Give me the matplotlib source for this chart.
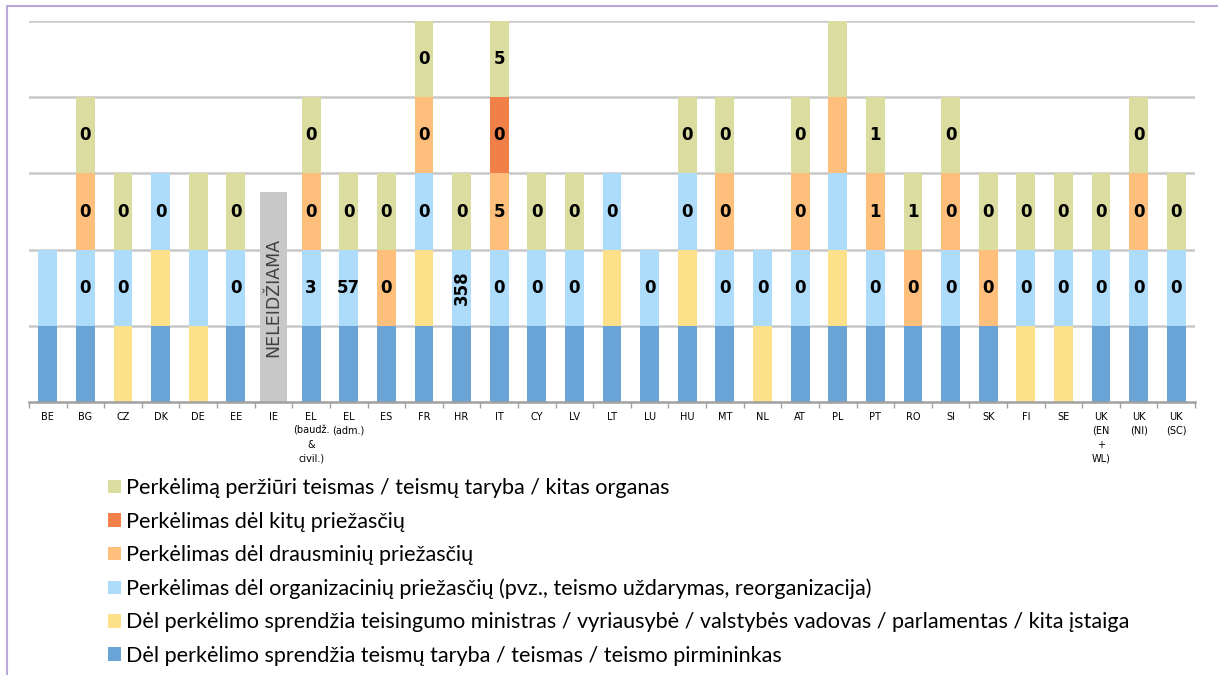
import matplotlib
matplotlib.use("Agg")
import matplotlib.pyplot as plt
from matplotlib.patches import Patch, Rectangle
import numpy as np

countries = ["BE", "BG", "CZ", "DK", "DE", "EE", "IE", "EL\n(baudž.\n&\ncivil.)", "EL\n(adm.)",
             "ES", "FR", "HR", "IT", "CY", "LV", "LT", "LU", "HU", "MT", "NL", "AT", "PL",
             "PT", "RO", "SI", "SK", "FI", "SE", "UK\n(EN\n+\nWL)", "UK\n(NI)", "UK\n(SC)"]

# 0/1 per country, stacked from bottom to top
council  = [1, 1, 0, 1, 0, 1, 0, 1, 1, 1, 1, 1, 1, 1, 1, 1, 1, 1, 1, 0, 1, 1, 1, 1, 1, 1, 0, 0, 1, 1, 1]
minister = [0, 0, 1, 1, 1, 0, 0, 0, 0, 0, 1, 0, 0, 0, 0, 1, 0, 1, 0, 1, 0, 1, 0, 0, 0, 0, 1, 1, 0, 0, 0]
organis  = [1, 1, 1, 1, 1, 1, 0, 1, 1, 0, 1, 1, 1, 1, 1, 1, 1, 1, 1, 1, 1, 1, 1, 0, 1, 0, 1, 1, 1, 1, 1]
discipl  = [0, 1, 0, 0, 0, 0, 0, 1, 0, 1, 1, 0, 1, 0, 0, 0, 0, 0, 1, 0, 1, 1, 1, 1, 1, 1, 0, 0, 0, 1, 0]
other    = [0, 0, 0, 0, 0, 0, 0, 0, 0, 0, 0, 0, 1, 0, 0, 0, 0, 0, 0, 0, 0, 0, 0, 0, 0, 0, 0, 0, 0, 0, 0]
review   = [0, 1, 1, 0, 1, 1, 0, 1, 1, 1, 1, 1, 1, 1, 1, 0, 0, 1, 1, 0, 1, 1, 1, 1, 1, 1, 1, 1, 1, 1, 1]

# numbers written inside the segments
organis_lbl = ["", "0", "0", "0", "", "0", "", "3", "57", "", "0", "358", "0", "0", "0", "0",
               "0", "0", "0", "0", "0", "", "0", "", "0", "", "0", "0", "0", "0", "0"]
discipl_lbl = ["", "0", "", "", "", "", "", "0", "", "0", "0", "", "5", "", "", "", "", "",
               "0", "", "0", "", "1", "0", "0", "0", "", "", "", "0", ""]
other_lbl = ["", "", "", "", "", "", "", "", "", "", "", "", "0", "", "", "", "", "", "", "",
             "", "", "", "", "", "", "", "", "", "", ""]
review_lbl = ["", "0", "0", "", "", "0", "", "0", "0", "0", "0", "0", "5", "0", "0", "", "",
              "0", "0", "", "0", "", "1", "1", "0", "0", "0", "0", "0", "0", "0"]

ie_index = 6
ie_height = 2.75
ie_text = "NELEIDŽIAMA"

series = [
    (council, None, "#6aa3d5", "Dėl perkėlimo sprendžia teismų taryba / teismas / teismo pirmininkas"),
    (minister, None, "#fde08a", "Dėl perkėlimo sprendžia teisingumo ministras / vyriausybė / valstybės vadovas / parlamentas / kita įstaiga"),
    (organis, organis_lbl, "#addcfb", "Perkėlimas dėl organizacinių priežasčių (pvz., teismo uždarymas, reorganizacija)"),
    (discipl, discipl_lbl, "#fdbf7b", "Perkėlimas dėl drausminių priežasčių"),
    (other, other_lbl, "#f08048", "Perkėlimas dėl kitų priežasčių"),
    (review, review_lbl, "#dadca0", "Perkėlimą peržiūri teismas / teismų taryba / kitas organas"),
]

fig = plt.figure(figsize=(12.18, 6.75), dpi=100)
ax = fig.add_axes([0.0238, 0.4044, 0.9574, 0.5645])

x = np.arange(len(countries))
bottom = np.zeros(len(countries))
handles = []
for vals, lbls, color, name in series:
    vals = np.array(vals, dtype=float)
    ax.bar(x, vals, 0.5, bottom=bottom, color=color, zorder=2)
    if lbls is not None:
        for i, t in enumerate(lbls):
            if t and vals[i] > 0:
                rot = 90 if len(t) > 2 else 0
                ax.text(x[i], bottom[i] + vals[i] / 2, t, ha="center", va="center",
                        fontsize=12, fontweight="bold", rotation=rot, zorder=3)
    bottom += vals
    handles.append(Patch(facecolor=color, label=name))

ax.bar(x[ie_index], ie_height, 0.72, color="#c8c8c8", zorder=2)
ax.text(x[ie_index], ie_height / 2, ie_text, rotation=90, ha="center", va="center",
        fontsize=12.5, color="#404040", zorder=3)

ax.set_xlim(-0.5, len(countries) - 0.5)
ax.set_ylim(0, 5)
ax.set_yticks([1, 2, 3, 4, 5])
ax.yaxis.grid(True, color="#c8c8c8", linewidth=1.8, zorder=1)
ax.tick_params(axis="y", left=False, labelleft=False)
for s in ["left", "right", "top"]:
    ax.spines[s].set_visible(False)
ax.spines["bottom"].set_color("#a0a0a0")
ax.spines["bottom"].set_linewidth(1.8)
ax.spines["bottom"].set_zorder(4)

ax.set_xticks(x)
ax.set_xticklabels(countries, fontsize=7, linespacing=1.5)
ax.set_xticks(np.arange(len(countries) + 1) - 0.5, minor=True)
ax.tick_params(axis="x", which="major", length=0, pad=7)
ax.tick_params(axis="x", which="minor", length=4, color="#a0a0a0", width=1)

fig.legend(handles=handles[::-1], loc="upper left", bbox_to_anchor=(0.0887, 0.2916),
           frameon=False, handlelength=0.6, handleheight=0.6,
           handletextpad=0.25, labelspacing=0.62, borderaxespad=0, borderpad=0,
           prop={"family": "Lato", "size": 15.6})

fig.patches.append(Rectangle((7 / 1218, -0.1), 1.2, 1.1 - 6 / 675, transform=fig.transFigure,
                             fill=False, edgecolor="#b9a9d9", linewidth=1.5))

fig.savefig("out.png", dpi=100)
